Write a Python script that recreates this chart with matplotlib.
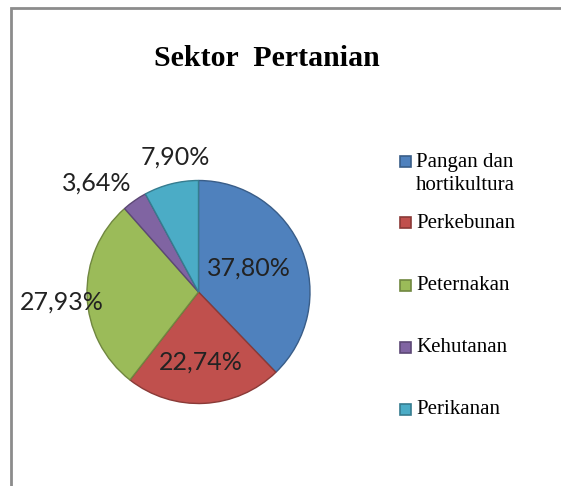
import numpy as np
import matplotlib
matplotlib.use("Agg")
import matplotlib.pyplot as plt
from matplotlib.patches import Rectangle
from matplotlib.colors import to_rgb

# data
sectors = ["Pangan dan\nhortikultura", "Perkebunan", "Peternakan", "Kehutanan", "Perikanan"]
shares = [37.80, 22.74, 27.93, 3.64, 7.90]
colors = ["#4F81BD", "#C0504D", "#9BBB59", "#8064A2", "#4BACC6"]
title = "Sektor  Pertanian"

W, H = 561, 486
fig = plt.figure(figsize=(W / 100, H / 100), dpi=100)


def fx(px):
    return px / W


def fy(py):
    return 1 - py / H


# chart frame (only left/top edges are visible in the crop)
fig.patches.append(Rectangle((fx(11), fy(600)), fx(700), (600 - 8) / H, transform=fig.transFigure,
                             fill=False, edgecolor="#8c8c8c", lw=2))

# pie axes: centre (198.5, 292) px, radius 111.5 px
cx, cy, r = 198.5, 292, 111.5
ax = fig.add_axes([fx(cx - r), fy(cy + r), 2 * r / W, 2 * r / H])
dark = [tuple(c * 0.72 for c in to_rgb(col)) for col in colors]
wedges, _ = ax.pie(shares, colors=colors, startangle=90, counterclock=False, radius=1,
                   wedgeprops=dict(linewidth=1.0))
for w, d in zip(wedges, dark):
    w.set_edgecolor(d)
ax.set_xlim(-1, 1)
ax.set_ylim(-1, 1)
ax.set_aspect("equal")
ax.axis("off")

# data labels, inside for the big slices and outside for the small ones
label_dist = [0.50, 0.63, 1.23, 1.34, 1.23]
label_shift = [3.4, -1, 2.4, 8.2, -4.3]  # degrees, to follow the reference placement
for w, v, dist, sh in zip(wedges, shares, label_dist, label_shift):
    ang = np.deg2rad((w.theta1 + w.theta2) / 2 + sh)
    txt = f"{v:.2f}%".replace(".", ",")
    ax.text(dist * np.cos(ang), dist * np.sin(ang), txt, ha="center", va="center",
            fontsize=18, family="Lato", color="#222222", clip_on=False)

fig.text(fx(267), fy(66), title, ha="center", va="baseline", fontsize=21.5,
         family="Liberation Serif", fontweight="bold")

# legend
leg_y = [162, 223, 285, 347, 409]
for lab, col, d, y in zip(sectors, colors, dark, leg_y):
    fig.patches.append(Rectangle((fx(400), fy(y + 5.5)), fx(11), 11 / H, transform=fig.transFigure,
                                 facecolor=col, edgecolor=d, lw=1.2))
    for i, line in enumerate(lab.split("\n")):
        fig.text(fx(416), fy(y + 23 * i), line, ha="left", va="center",
                 fontsize=15, family="Liberation Serif")

fig.savefig("out.png", dpi=100)
